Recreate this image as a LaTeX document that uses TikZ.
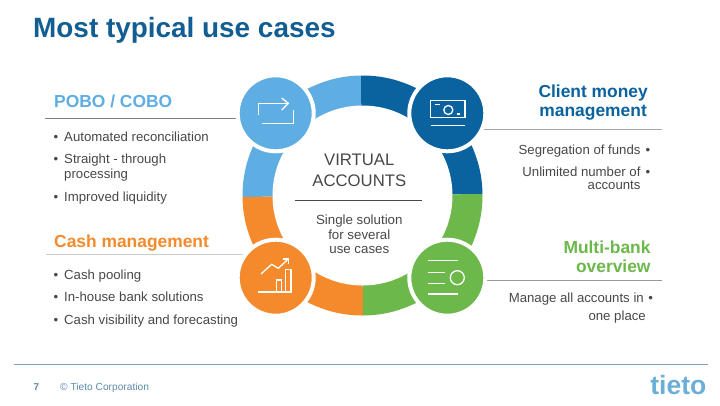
\documentclass[tikz,border=0pt]{standalone}
\usepackage{fontspec}
\setmainfont{Liberation Sans}
\definecolor{lblue}{HTML}{5FAEE3}
\definecolor{dblue}{HTML}{0A629F}
\definecolor{orng}{HTML}{F58A2C}
\definecolor{grn}{HTML}{6CB84A}
\definecolor{titlec}{HTML}{125E92}
\definecolor{txt}{HTML}{484848}
\definecolor{footc}{HTML}{5E8CA8}
\definecolor{logoc}{HTML}{6BAFD8}
\tikzset{
 lbl/.style={inner sep=0pt,text=txt,font=\fontsize{13.2}{15}\selectfont},
 ctr/.style={inner sep=0pt,text=txt,anchor=base,font=\fontsize{13.3}{15}\selectfont},
 big/.style={inner sep=0pt,text=txt,anchor=base,font=\fontsize{16.7}{20}\selectfont},
 hd/.style={inner sep=0pt,font=\bfseries\fontsize{17.4}{18}\selectfont},
 rulel/.style={line width=0.8pt},
 disc/.style={circle,minimum size=76pt,inner sep=0pt,draw=white,line width=4pt},
 ic/.style={draw=white,line width=1.3pt},
 foot/.style={inner sep=0pt,text=footc,anchor=base west},
}
\begin{document}
\begin{tikzpicture}[x=1pt,y=-1pt]
\useasboundingbox[fill=white] (0,0) rectangle (720,405);
% ring
\begin{scope}
\clip (362.5,195.5) circle[radius=120pt];
\fill[lblue] (362,195.5) -- (360.4,0) -- (0,0) -- (0,200) -- cycle;
\fill[dblue] (362,195.5) -- (360.4,0) -- (720,0) -- (720,191) -- cycle;
\fill[orng] (362,195.5) -- (363.7,405) -- (0,405) -- (0,200) -- cycle;
\fill[grn] (362,195.5) -- (363.7,405) -- (720,405) -- (720,191) -- cycle;
\end{scope}
\node[circle,fill=white,minimum size=180pt,inner sep=0pt] (hub) at (362.5,195.5) {};
% title
\node[inner sep=0pt,anchor=base west,text=titlec,font=\bfseries\fontsize{27.9}{30}\selectfont] (title) at (33,37) {Most typical use cases};
% heading rules, running in under the discs
\coordinate (d1c) at (275.7,113.3);
\coordinate (d2c) at (447.3,113.3);
\coordinate (d3c) at (275.7,277.7);
\coordinate (d4c) at (447.3,277.7);
\coordinate (r1) at (45,118.5);
\coordinate (r2) at (46,254);
\coordinate (r3) at (662,129.3);
\coordinate (r4) at (662,280.7);
\draw[rulel,draw=black!50] (r1) -- (r1 -| d1c);
\draw[rulel,draw=black!20] (r2) -- (r2 -| d3c);
\draw[rulel,draw=black!35] (r3) -- (r3 -| d2c);
\draw[rulel,draw=black!40] (r4) -- (r4 -| d4c);
\node[disc,fill=lblue] (d1) at (d1c) {};
\node[disc,fill=dblue] (d2) at (d2c) {};
\node[disc,fill=orng] (d3) at (d3c) {};
\node[disc,fill=grn] (d4) at (d4c) {};
% icon 1
\draw[ic] (258.3,115) -- (258.3,103.3) -- (288.3,103.3);
\draw[ic] (281.7,98) -- (288.3,103.3) -- (281.7,110);
\draw[ic] (293.3,110) -- (293.3,123.3) -- (261.7,123.3);
% icon 2
\draw[ic] (430.7,100.7) rectangle (465,117.3);
\draw[ic] (430.7,125.7) -- (465,125.7);
\draw[ic] (448.3,110) circle[radius=4.5pt];
\draw[ic] (435,104.3) -- (440,104.3);
\draw[ic] (456.7,114) -- (460,114);
% icon 3
\draw[ic] (257.7,292) -- (291,292) -- (291,269.3) -- (285.7,269.3) -- (285.7,292);
\draw[ic] (276.7,292) -- (276.7,280) -- (281.7,280) -- (281.7,292);
\draw[ic] (261,274) -- (271.7,264.3) -- (278.3,268.3) -- (288.3,259);
\draw[ic] (282.7,259) -- (288.3,259) -- (288.3,264.3);
% icon 4
\draw[ic] (428.3,260.7) -- (458.3,260.7);
\draw[ic] (428.3,272.3) -- (445,272.3);
\draw[ic] (428.3,283.3) -- (445,283.3);
\draw[ic] (428.3,294) -- (458.3,294);
\draw[ic] (457.3,277.7) circle[radius=7pt];
% hub text
\node[big] (v1) at (359.3,165) {VIRTUAL};
\node[big] (v2) at (359.3,186.7) {ACCOUNTS};
\coordinate (hl) at (295,200.7);
\coordinate (hr) at (422,200.7);
\draw[draw=txt,line width=0.7pt] (hl) -- (hr);
\node[ctr] (s1) at (359.3,224) {Single solution};
\node[ctr] (s2) at (359.3,239) {for several};
\node[ctr] (s3) at (359.3,253) {use cases};
% POBO
\node[hd,text=lblue,anchor=base west] (h1) at (54,107.7) {POBO / COBO};
\foreach \n/\y/\t in {a/141/Automated reconciliation,b/163.3/Straight - through,c/178.3/processing,d/201.7/Improved liquidity,
  e/279/Cash pooling,f/301.7/In-house bank solutions,g/324.3/Cash visibility and forecasting}
  \node[lbl,anchor=base west] (t\n) at (64,\y) {\t};
\foreach \n/\y in {a/141,b/163.3,d/201.7,e/279,f/301.7,g/324.3}
  \node[lbl,anchor=base] (b\n) at (56,\y) {•};
% Cash
\node[hd,text=orng,anchor=base west] (h2) at (54,247) {Cash management};
% Client
\node[hd,text=dblue,anchor=base east] (h3) at (648,97.3) {Client money};
\node[hd,text=dblue,anchor=base east] (h3b) at (647,116.7) {management};
\node[lbl,anchor=base east] (tp) at (640.7,154) {Segregation of funds};
\node[lbl,anchor=base east] (tq) at (640.7,176) {Unlimited number of};
\node[lbl,anchor=base east] (tr) at (640.7,189) {accounts};
\node[lbl,anchor=base] (bp) at (648,154) {•};
\node[lbl,anchor=base] (bq) at (648,176) {•};
% Multi
\node[hd,text=grn,anchor=base east] (h4) at (650.7,253.3) {Multi-bank};
\node[hd,text=grn,anchor=base east] (h4b) at (650.7,272.7) {overview};
\node[lbl,anchor=base east] (ts) at (644,302.7) {Manage all accounts in};
\node[lbl,anchor=base east] (tt) at (646,320) {one place};
\node[lbl,anchor=base] (bs) at (650.7,302.7) {•};
% footer
\coordinate (f1) at (14,364);
\coordinate (f2) at (708,364);
\draw[draw=footc!80,line width=0.8pt] (f1) -- (f2);
\node[foot,font=\bfseries\fontsize{10}{12}\selectfont] (pg) at (33.5,390) {7};
\node[foot,font=\fontsize{10.2}{12}\selectfont] (cp) at (60,390) {© Tieto Corporation};
\node[inner sep=0pt,anchor=base east,text=logoc,font=\bfseries\fontsize{26.5}{28}\selectfont] (logo) at (706.5,394) {tieto};
\end{tikzpicture}
\end{document}
